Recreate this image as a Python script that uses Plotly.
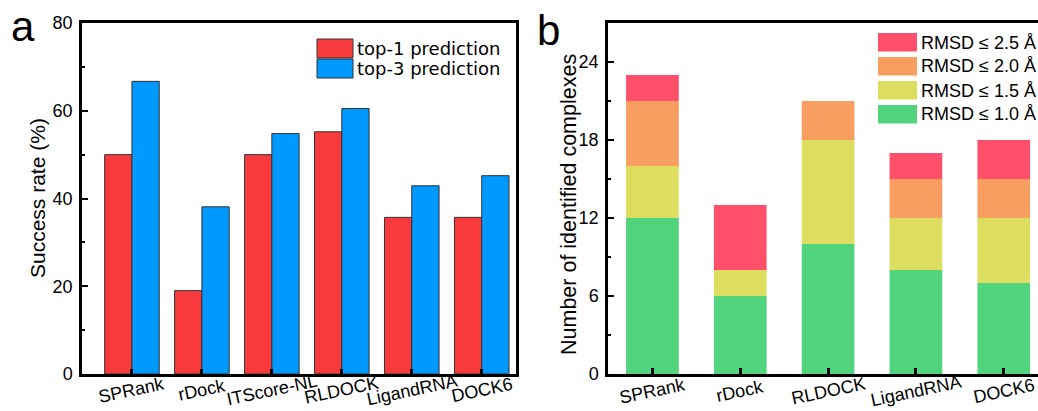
import plotly.graph_objects as go

# Panel a: success rates (%)
methods_a = ["SPRank", "rDock", "ITScore-NL", "RLDOCK", "LigandRNA", "DOCK6"]
top1 = [50.0, 19.0, 50.0, 55.2, 35.7, 35.7]
top3 = [66.7, 38.1, 54.8, 60.5, 42.9, 45.2]

# Panel b: number of identified complexes by RMSD bin
methods_b = ["SPRank", "rDock", "RLDOCK", "LigandRNA", "DOCK6"]
rmsd_10 = [12, 6, 10, 8, 7]
rmsd_15 = [4, 2, 8, 4, 5]
rmsd_20 = [5, 0, 3, 3, 3]
rmsd_25 = [2, 5, 0, 2, 3]

W, H = 1038, 411
RED_A, BLUE_A = "#F93A3D", "#0099FF"
C25, C20, C15, C10 = "#FF4F6A", "#F79E60", "#DDDD5F", "#52D47E"
SANS = "Liberation Sans, Arial, sans-serif"
TICK_FONT = dict(family=SANS, size=18, color="black")


def px_x(x):
    return x / W


def px_y(y):
    return 1 - y / H


fig = go.Figure()

fig.add_trace(go.Bar(x=methods_a, y=top1, name="top-1 prediction", offsetgroup="t1",
                     marker=dict(color=RED_A, line=dict(color="#333333", width=1)),
                     xaxis="x", yaxis="y", showlegend=False))
fig.add_trace(go.Bar(x=methods_a, y=top3, name="top-3 prediction", offsetgroup="t3",
                     marker=dict(color=BLUE_A, line=dict(color="#333333", width=1)),
                     xaxis="x", yaxis="y", showlegend=False))

# stacked bins for panel b (each segment sits on the running total below it)
base = [0] * len(methods_b)
for vals, nm, col in [(rmsd_10, "RMSD ≤ 1.0 Å", C10), (rmsd_15, "RMSD ≤ 1.5 Å", C15),
                      (rmsd_20, "RMSD ≤ 2.0 Å", C20), (rmsd_25, "RMSD ≤ 2.5 Å", C25)]:
    fig.add_trace(go.Bar(x=methods_b, y=vals, base=list(base), name=nm, offsetgroup="b",
                         marker=dict(color=col, line=dict(width=0)), width=0.6,
                         xaxis="x2", yaxis="y2", showlegend=False))
    base = [b + v for b, v in zip(base, vals)]

axis_common = dict(showline=True, linecolor="black", linewidth=2.5,
                   showgrid=False, zeroline=False, tickfont=TICK_FONT, automargin=False)

fig.update_layout(
    width=W, height=H,
    margin=dict(l=0, r=0, t=0, b=0),
    paper_bgcolor="white", plot_bgcolor="white",
    barmode="group", bargap=0.22, bargroupgap=0,
    xaxis=dict(domain=[px_x(82), px_x(516)], anchor="y", type="category", range=[-0.714, 5.49],
               ticks="inside", ticklen=5, tickwidth=2.5, tickcolor="black", showticklabels=False,
               mirror=True, **axis_common),
    yaxis=dict(domain=[px_y(374), px_y(23)], anchor="x", range=[0, 80], dtick=20,
               ticks="inside", ticklen=6, tickwidth=2, tickcolor="black", ticklabelstandoff=3,
               minor=dict(ticks="inside", ticklen=3, dtick=10, tickwidth=2, tickcolor="black"),
               mirror=True, **axis_common),
    xaxis2=dict(domain=[px_x(608), 1.0], anchor="y2", type="category", range=[-0.506, 4.39],
                ticks="inside", ticklen=6, tickwidth=2.5, tickcolor="black", showticklabels=False,
                mirror=True, **axis_common),
    yaxis2=dict(domain=[px_y(374), px_y(23)], anchor="x2", range=[0, 27], dtick=6,
                ticks="inside", ticklen=6, tickwidth=2, tickcolor="black", ticklabelstandoff=3,
                minor=dict(ticks="inside", ticklen=3, dtick=3, tickwidth=2, tickcolor="black"),
                mirror=False, **axis_common),
)

shapes = []
annotations = []

# slanted category labels, centred under each group
for xref, cats, yc in (("x", methods_a, 390), ("x2", methods_b, 391)):
    for c in cats:
        annotations.append(dict(text=c, xref=xref, yref="paper", x=c, y=px_y(yc),
                                xanchor="center", yanchor="middle", textangle=-12, showarrow=False,
                                font=dict(family=SANS, size=18, color="black")))

# axis titles
annotations.append(dict(text="Success rate (%)", xref="paper", yref="paper", x=px_x(37), y=px_y(198),
                        xanchor="center", yanchor="middle", textangle=-90, showarrow=False,
                        font=dict(family=SANS, size=21, color="black")))
annotations.append(dict(text="Number of identified complexes", xref="paper", yref="paper",
                        x=px_x(569), y=px_y(205), xanchor="center", yanchor="middle", textangle=-90,
                        showarrow=False, font=dict(family=SANS, size=21.5, color="black")))

# Panel a legend
legend_a = [("top-1 prediction", RED_A, 39), ("top-3 prediction", BLUE_A, 59)]
for txt, col, y0 in legend_a:
    shapes.append(dict(type="rect", xref="paper", yref="paper",
                       x0=px_x(317), x1=px_x(353), y0=px_y(y0 + 19), y1=px_y(y0),
                       fillcolor=col, line=dict(color="#333333", width=1)))
    annotations.append(dict(text=txt, xref="paper", yref="paper", x=px_x(355), y=px_y(y0 + 9.5),
                            xanchor="left", yanchor="middle", showarrow=False,
                            font=dict(family="DejaVu Sans, Verdana, sans-serif", size=18, color="black")))

# Panel b legend
legend_b = [("RMSD ≤ 2.5 Å", C25, 33), ("RMSD ≤ 2.0 Å", C20, 57),
            ("RMSD ≤ 1.5 Å", C15, 81), ("RMSD ≤ 1.0 Å", C10, 105)]
for txt, col, y0 in legend_b:
    shapes.append(dict(type="rect", xref="paper", yref="paper",
                       x0=px_x(878), x1=px_x(917), y0=px_y(y0 + 18.5), y1=px_y(y0),
                       fillcolor=col, line=dict(width=0)))
    annotations.append(dict(text=txt, xref="paper", yref="paper", x=px_x(919), y=px_y(y0 + 9.5),
                            xanchor="left", yanchor="middle", showarrow=False,
                            font=dict(family=SANS, size=18, color="black")))

# Panel letters
annotations.append(dict(text="a", xref="paper", yref="paper", x=px_x(23), y=px_y(1),
                        xanchor="center", yanchor="top", showarrow=False,
                        font=dict(family=SANS, size=42, color="black")))
annotations.append(dict(text="b", xref="paper", yref="paper", x=px_x(548), y=px_y(5),
                        xanchor="center", yanchor="top", showarrow=False,
                        font=dict(family=SANS, size=42, color="black")))

fig.update_layout(shapes=shapes, annotations=annotations)

fig.write_html("out.html")
